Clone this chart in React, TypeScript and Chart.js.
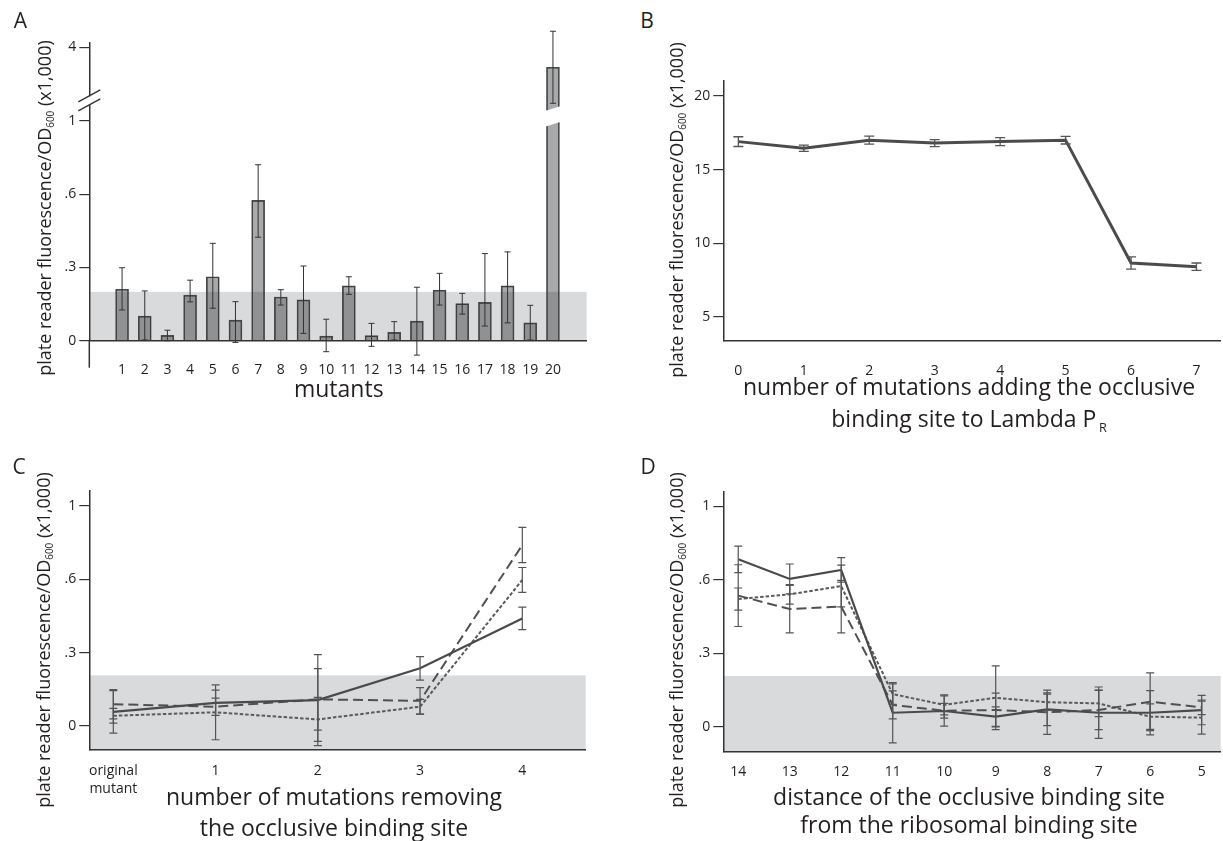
import React, { useEffect, useRef } from 'react';
import { Chart, registerables } from 'chart.js';

Chart.register(...registerables);

const FONT = '"Open Sans", "Noto Sans", "DejaVu Sans", sans-serif';
const INK = '#333333';
const TEXT = '#231f20';

// ---------------- Panel A: mutants (bar chart with broken y axis) ----------------
const mutants = [1, 2, 3, 4, 5, 6, 7, 8, 9, 10, 11, 12, 13, 14, 15, 16, 17, 18, 19, 20];
const fluorA = [0.211, 0.101, 0.022, 0.187, 0.262, 0.084, 0.575, 0.179, 0.167, 0.019, 0.225, 0.021, 0.034, 0.080, 0.207, 0.152, 0.157, 0.225, 0.073, 3.5];
const errLowA = [0.126, 0.003, 0.0, 0.159, 0.133, -0.007, 0.424, 0.146, 0.030, -0.045, 0.190, -0.023, 0.003, -0.059, 0.146, 0.109, 0.060, 0.073, 0.003, 2.6];
const errHighA = [0.299, 0.204, 0.043, 0.248, 0.399, 0.160, 0.721, 0.209, 0.306, 0.088, 0.262, 0.071, 0.078, 0.219, 0.276, 0.194, 0.357, 0.364, 0.145, 4.4];
const thresholdA = 0.2;

// lower-segment y ticks (as printed in the figure: the top one is labelled "1")
const yTickValuesLower = [0, 0.3, 0.6, 0.9];
const yTickLabelsLower = ['0', '.3', '.6', '1'];
const upperTickValueA = 4;
const upperTickLabelA = '4';

// broken axis: values above 1 are drawn on a compressed upper segment
const UPPER_REF_POS = 1.2025;
const UPPER_SCALE = 0.164;
const toDisplayA = (v: number) => (v <= 1 ? v : UPPER_REF_POS + (v - upperTickValueA) * UPPER_SCALE);

// ---------------- Panel B ----------------
const mutationsAdded = [0, 1, 2, 3, 4, 5, 6, 7];
const fluorB = [16.9, 16.45, 17.0, 16.8, 16.9, 17.0, 8.65, 8.4];
const errB = [0.33, 0.21, 0.27, 0.24, 0.27, 0.26, 0.42, 0.25];
const yTicksB = [5, 10, 15, 20];

// ---------------- Panel C ----------------
const labelsC: (string | string[])[] = [['original', 'mutant'], '1', '2', '3', '4'];
const cSolid = [0.058, 0.095, 0.106, 0.236, 0.440];
const cSolidErr = [0.087, 0.052, 0.186, 0.048, 0.046];
const cDashed = [0.089, 0.079, 0.109, 0.103, 0.740];
const cDashedErr = [0.06, 0.035, 0.126, 0.054, 0.072];
const cDotted = [0.042, 0.056, 0.027, 0.079, 0.597];
const cDottedErr = [0.03, 0.112, 0.09, 0.03, 0.051];
const thresholdCD = 0.207;

// ---------------- Panel D ----------------
const labelsD = ['14', '13', '12', '11', '10', '9', '8', '7', '6', '5'];
const dSolid = [0.683, 0.603, 0.640, 0.057, 0.064, 0.041, 0.071, 0.057, 0.057, 0.068];
const dSolidErr = [0.054, 0.061, 0.05, 0.123, 0.062, 0.04, 0.067, 0.105, 0.09, 0.06];
const dDashed = [0.535, 0.48, 0.49, 0.089, 0.065, 0.068, 0.059, 0.068, 0.102, 0.079];
const dDashedErr = [0.126, 0.097, 0.107, 0.057, 0.03, 0.069, 0.09, 0.08, 0.118, 0.03];
const dDotted = [0.521, 0.54, 0.574, 0.133, 0.089, 0.118, 0.10, 0.095, 0.041, 0.037];
const dDottedErr = [0.045, 0.04, 0.085, 0.042, 0.041, 0.13, 0.033, 0.054, 0.052, 0.067];

// ---------------- helpers ----------------
function axisY(min: number, max: number, values: number[], labels: string[], width: number) {
  return {
    type: 'linear',
    min,
    max,
    bounds: 'data',
    afterBuildTicks: (s: any) => {
      s.ticks = values.map((v) => ({ value: v }));
    },
    afterFit: (s: any) => {
      s.width = width;
    },
    ticks: {
      callback: (_v: any, i: number) => labels[i],
      font: { family: FONT, size: 14 },
      color: TEXT,
      padding: 3,
    },
    grid: { display: true, drawOnChartArea: false, drawTicks: true, tickLength: 10, color: INK, lineWidth: 1.2 },
    border: { display: true, color: INK, width: 1.5 },
  };
}

function axisX(min: number, max: number, values: number[], labels: any[], height: number, padding: number, lineHeight = 1.2) {
  return {
    type: 'linear',
    min,
    max,
    bounds: 'data',
    afterBuildTicks: (s: any) => {
      s.ticks = values.map((v) => ({ value: v }));
    },
    afterFit: (s: any) => {
      s.height = height;
    },
    ticks: {
      callback: (_v: any, i: number) => labels[i],
      font: { family: FONT, size: 14, lineHeight },
      color: TEXT,
      padding,
      maxRotation: 0,
      minRotation: 0,
      autoSkip: false,
    },
    grid: { display: false },
    border: { display: true, color: INK, width: 1.5 },
  };
}

function drawErrorBars(chart: any, dsIndex: number, lows: number[], highs: number[], color: string, width: number, cap: number) {
  const { ctx, scales } = chart;
  const y = scales.y;
  const meta = chart.getDatasetMeta(dsIndex);
  ctx.save();
  ctx.strokeStyle = color;
  ctx.lineWidth = width;
  ctx.setLineDash([]);
  meta.data.forEach((el: any, j: number) => {
    const x = el.x;
    const yl = y.getPixelForValue(lows[j]);
    const yh = y.getPixelForValue(highs[j]);
    ctx.beginPath();
    ctx.moveTo(x, yl);
    ctx.lineTo(x, yh);
    ctx.moveTo(x - cap, yl);
    ctx.lineTo(x + cap, yl);
    ctx.moveTo(x - cap, yh);
    ctx.lineTo(x + cap, yh);
    ctx.stroke();
  });
  ctx.restore();
}

const basePlugins = { legend: { display: false }, tooltip: { enabled: false } };

// ---------------- chart configs ----------------
function makeA() {
  const plugin = {
    id: 'panelA',
    beforeDraw(chart: any) {
      const { ctx, chartArea: a, scales } = chart;
      const y = scales.y;
      const top = y.getPixelForValue(thresholdA);
      const bottom = y.getPixelForValue(0);
      ctx.save();
      ctx.fillStyle = '#d9dadb';
      ctx.fillRect(a.left + 1, top, a.right - a.left - 1, bottom - top);
      ctx.restore();
    },
    afterDatasetsDraw(chart: any) {
      const { ctx, chartArea: a, scales } = chart;
      const y = scales.y;
      const meta = chart.getDatasetMeta(0);
      // gap in the broken bar
      meta.data.forEach((el: any, i: number) => {
        if (fluorA[i] <= 1) return;
        const half = el.width / 2 + 1.5;
        const yl = y.getPixelForValue(0.877);
        const yh = y.getPixelForValue(0.941);
        const slant = 5;
        ctx.save();
        ctx.fillStyle = '#ffffff';
        ctx.beginPath();
        ctx.moveTo(el.x - half, yl);
        ctx.lineTo(el.x + half, yl - slant);
        ctx.lineTo(el.x + half, yh - slant);
        ctx.lineTo(el.x - half, yh);
        ctx.closePath();
        ctx.fill();
        ctx.restore();
      });
      drawErrorBars(chart, 0, errLowA.map(toDisplayA), errHighA.map(toDisplayA), '#333333', 1, 3);
      // y axis continues below the zero line
      ctx.save();
      ctx.strokeStyle = INK;
      ctx.lineWidth = 1.5;
      ctx.beginPath();
      ctx.moveTo(a.left, a.bottom);
      ctx.lineTo(a.left, a.bottom + 27);
      ctx.stroke();
      // axis break marks
      const yb = y.getPixelForValue(0.985);
      ctx.fillStyle = '#ffffff';
      ctx.fillRect(a.left - 3, yb - 4, 6, 8);
      ctx.lineWidth = 1.4;
      [-4.5, 4.5].forEach((off) => {
        ctx.beginPath();
        ctx.moveTo(a.left - 11, yb + off + 6);
        ctx.lineTo(a.left + 11, yb + off - 6);
        ctx.stroke();
      });
      ctx.restore();
    },
  };
  return {
    type: 'bar',
    data: {
      datasets: [
        {
          data: mutants.map((m, i) => ({ x: m, y: toDisplayA(fluorA[i]) })),
          backgroundColor: 'rgba(20,22,25,0.37)',
          borderColor: '#4a4a4a',
          borderWidth: 1,
          barThickness: 13,
          clip: false,
        },
      ],
    },
    options: {
      responsive: false,
      animation: false,
      devicePixelRatio: 1,
      events: [],
      layout: { padding: { top: 43, right: 13.3, bottom: 0, left: 0 } },
      plugins: basePlugins,
      scales: {
        x: axisX(0.103, 20.94, mutants, mutants.map(String), 79.3, 12.9),
        y: axisY(0, 1.22, [...yTickValuesLower, toDisplayA(upperTickValueA)], [...yTickLabelsLower, upperTickLabelA], 89.3),
      },
    },
    plugins: [plugin],
  };
}

function makeB() {
  const plugin = {
    id: 'panelB',
    afterDatasetsDraw(chart: any) {
      drawErrorBars(chart, 0, fluorB.map((v, i) => v - errB[i]), fluorB.map((v, i) => v + errB[i]), '#555555', 1.3, 5);
    },
  };
  return {
    type: 'line',
    data: {
      datasets: [
        {
          data: mutationsAdded.map((m, i) => ({ x: m, y: fluorB[i] })),
          borderColor: '#4b4b4b',
          borderWidth: 3,
          pointRadius: 0,
          tension: 0,
          clip: false,
        },
      ],
    },
    options: {
      responsive: false,
      animation: false,
      devicePixelRatio: 1,
      events: [],
      layout: { padding: { top: 41, right: 2.3, bottom: 0, left: 0 } },
      plugins: basePlugins,
      scales: {
        x: axisX(-0.23, 7.37, mutationsAdded, mutationsAdded.map(String), 99.3, 14.2),
        y: axisY(3.37, 21.02, yTicksB, yTicksB.map(String), 123.3),
      },
    },
    plugins: [plugin],
  };
}

function bandPlugin(id: string, series: { v: number[]; e: number[] }[]) {
  return {
    id,
    beforeDraw(chart: any) {
      const { ctx, chartArea: a, scales } = chart;
      const top = scales.y.getPixelForValue(thresholdCD);
      ctx.save();
      ctx.fillStyle = '#d9dadc';
      ctx.fillRect(a.left + 0.75, top, a.right - a.left - 0.75, a.bottom - 0.75 - top);
      ctx.restore();
    },
    afterDatasetsDraw(chart: any) {
      series.forEach((s, k) => {
        drawErrorBars(chart, k, s.v.map((v, i) => v - s.e[i]), s.v.map((v, i) => v + s.e[i]), '#555555', 1.2, 4);
      });
    },
  };
}

function lineSet(values: number[], dash: number[], color: string, width: number) {
  return {
    data: values.map((v, i) => ({ x: i, y: v })),
    borderColor: color,
    borderWidth: width,
    borderDash: dash,
    pointRadius: 0,
    tension: 0,
    clip: false,
  };
}

function makeC() {
  return {
    type: 'line',
    data: {
      datasets: [
        lineSet(cSolid, [], '#4a4a4a', 2.2),
        lineSet(cDashed, [10, 5], '#505050', 2),
        lineSet(cDotted, [3.5, 2], '#5a5a5a', 2),
      ],
    },
    options: {
      responsive: false,
      animation: false,
      devicePixelRatio: 1,
      events: [],
      layout: { padding: { top: 50.7, right: 14.3, bottom: 0, left: 0 } },
      plugins: basePlugins,
      scales: {
        x: axisX(-0.235, 4.62, [0, 1, 2, 3, 4], labelsC, 91, 4, 1.3),
        y: axisY(-0.098, 0.962, yTickValuesLower, yTickLabelsLower, 89.3),
      },
    },
    plugins: [
      bandPlugin('bandC', [
        { v: cSolid, e: cSolidErr },
        { v: cDashed, e: cDashedErr },
        { v: cDotted, e: cDottedErr },
      ]),
    ],
  };
}

function makeD() {
  const idx = labelsD.map((_l, i) => i);
  return {
    type: 'line',
    data: {
      datasets: [
        lineSet(dSolid, [], '#4a4a4a', 2.2),
        lineSet(dDashed, [10, 5], '#505050', 2),
        lineSet(dDotted, [3.5, 2], '#5a5a5a', 2),
      ],
    },
    options: {
      responsive: false,
      animation: false,
      devicePixelRatio: 1,
      events: [],
      layout: { padding: { top: 51.7, right: 2.3, bottom: 0, left: 0 } },
      plugins: basePlugins,
      scales: {
        x: axisX(-0.29, 9.37, idx, labelsD, 89.3, 4),
        y: axisY(-0.102, 0.959, yTickValuesLower, yTickLabelsLower, 123.3),
      },
    },
    plugins: [
      bandPlugin('bandD', [
        { v: dSolid, e: dSolidErr },
        { v: dDashed, e: dDashedErr },
        { v: dDotted, e: dDottedErr },
      ]),
    ],
  };
}

// ---------------- components ----------------
function ChartPanel({ left, top, width, height, make }: { left: number; top: number; width: number; height: number; make: () => any }) {
  const ref = useRef<HTMLCanvasElement>(null);
  useEffect(() => {
    const chart = new Chart(ref.current as HTMLCanvasElement, make());
    return () => chart.destroy();
  }, []);
  return <canvas ref={ref} width={width} height={height} style={{ position: 'absolute', left, top, width, height }} />;
}

function Txt({ x, y, size, rotate, children }: { x: number; y: number; size: number; rotate?: boolean; children: any }) {
  return (
    <div
      style={{
        position: 'absolute',
        left: x,
        top: y,
        transform: `translate(-50%, -50%)${rotate ? ' rotate(-90deg)' : ''}`,
        fontSize: size,
        lineHeight: 1,
        whiteSpace: 'nowrap',
        fontFamily: FONT,
        color: TEXT,
      }}
    >
      {children}
    </div>
  );
}

const Sub = ({ children }: { children: any }) => (
  <span style={{ fontSize: '0.55em', position: 'relative', top: '0.35em' }}>{children}</span>
);

const yTitle = (
  <>
    plate reader fluorescence/OD<Sub>600</Sub> (x1,000)
  </>
);

export default function App() {
  return (
    <div style={{ position: 'absolute', left: 0, top: 0, width: 1223, height: 841, background: '#ffffff', overflow: 'hidden' }}>
      <ChartPanel left={0} top={0} width={600} height={420} make={makeA} />
      <ChartPanel left={600} top={40} width={623} height={400} make={makeB} />
      <ChartPanel left={0} top={440} width={600} height={401} make={makeC} />
      <ChartPanel left={600} top={440} width={623} height={401} make={makeD} />

      <Txt x={20.5} y={20} size={21}>A</Txt>
      <Txt x={647} y={20} size={21}>B</Txt>
      <Txt x={19} y={466} size={21}>C</Txt>
      <Txt x={648} y={466} size={21}>D</Txt>

      <Txt x={43.5} y={207.5} size={18} rotate>{yTitle}</Txt>
      <Txt x={676} y={210} size={18} rotate>{yTitle}</Txt>
      <Txt x={43} y={640} size={18} rotate>{yTitle}</Txt>
      <Txt x={676} y={640} size={18} rotate>{yTitle}</Txt>

      <Txt x={338.8} y={388} size={23}>mutants</Txt>

      <Txt x={969} y={386} size={23}>number of mutations adding the occlusive</Txt>
      <Txt x={969} y={418} size={23}>
        binding site to Lambda P
        <span style={{ fontSize: '0.55em', position: 'relative', top: '0.4em', marginLeft: '0.2em' }}>R</span>
      </Txt>

      <Txt x={334} y={796} size={23}>number of mutations removing</Txt>
      <Txt x={334} y={827} size={23}>the occlusive binding site</Txt>

      <Txt x={969} y={796} size={23}>distance of the occlusive binding site</Txt>
      <Txt x={969} y={824} size={23}>from the ribosomal binding site</Txt>
    </div>
  );
}
